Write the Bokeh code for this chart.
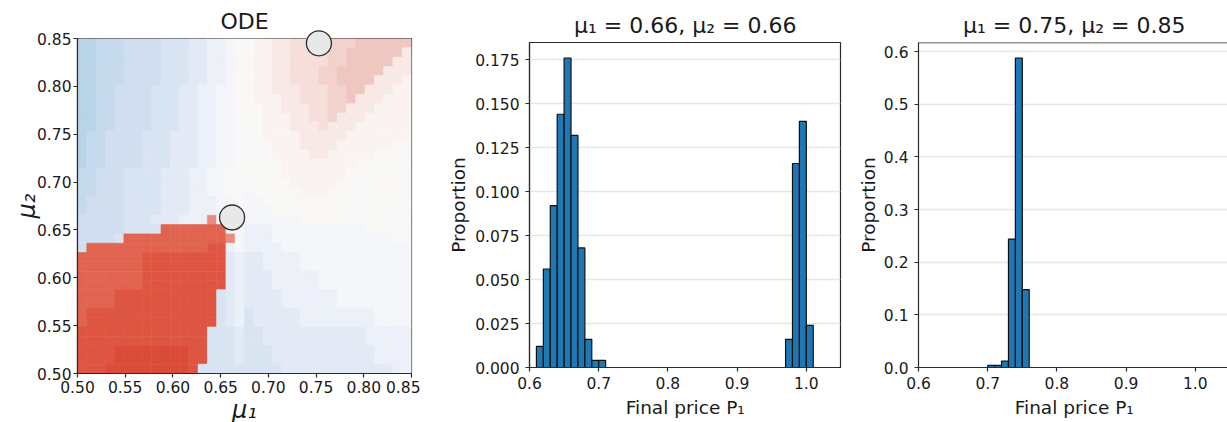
import math
from bokeh.plotting import figure
from bokeh.layouts import row
from bokeh.models import ColumnDataSource, FixedTicker, PrintfTickFormatter, Range1d, Span
from bokeh.core.properties import value
from bokeh.embed import file_html
from bokeh.resources import INLINE

# ---------------- data ----------------
MU_MIN, MU_MAX = 0.5, 0.85
N_CELLS = 36
# ODE heat map, read cell by cell (top row = mu2 0.85), level codes
HEAT_ROWS = [
    "aabbbccccdddeeffgw" + "whhiijjjjkkkllllll",
    "aabbbccccdddeeffgw" + "whhiijjjjkklllllli",
    "aabbbccccdddeeffgw" + "whhiijjjjkklllllii",
    "aabbbccccdddeeffgw" + "whhiijjjkkllllliii",
    "aabbbccccdddeeffgw" + "whhiijjjkklllliiih",
    "aabbccccdddeeffggw" + "whhiiijjjkklliiihh",
    "aabbccccdddeeffggw" + "whhhiijjjkkliiihhh",
    "aabbccccdddeeffggw" + "wwhhiiijjkkiiihhhh",
    "aabbccccdddeeffggw" + "wwhhhiijjkiiihhhhh",
    "aabbccccdddeeffggw" + "wwhhhiiijiiihhhhhh",
    "abbccccdddeeeffggw" + "wwhhhhiiiiihhhhhhh",
    "abbccccdddeeeffggw" + "wwwhhhiiiihhhhhhww",
    "abbccccdddeeeffggw" + "wwwhhhhiihhhhhwwww",
    "abbccccdddeeeffggw" + "wwwwhhhhhhhhwwwwww",
    "bbcccddddeeeffggww" + "wwwwhhhhhhhwwwwwww",
    "bbcccddddeeeffggww" + "wwwwwhhhhhwwwwwwww",
    "bbcccddddeeeffggww" + "gwwwwwhhhwwwwwwwww",
    "bccccddddeeefffggw" + "ggwwwwwwwwwwwwwwww",
    "bccccddddeeefffggw" + "gggwwwwwwwwwwwwwww",
    "cccccdddeeefff" + "m" + "gww" + "ggggggwwwwwwwwwwww",
    "cccccdddd" + "QQQQQQQ" + "gg" + "fffggggggggggwwwww",
    "ccccd" + "QQQQQQQQQQQ" + "m" + "g" + "fffgggggggggggggww",
    "c" + "QQQQQQQQQQQQQRR" + "fg" + "ffffgggggggggggggg",
    "QQQQQQQRRRRRRRRR" + "ef" + "eeffffgggggggggggg",
    "QQQQQQQRRRRRRRRR" + "ef" + "eeffffgggggggggggg",
    "QQQQQQQRRRRRRRRR" + "ef" + "eeefffffgggggggggg",
    "QQQQQQQRRRRRRRRR" + "ef" + "eeefffffgggggggggg",
    "QQQQRRRRRRRRRRR" + "def" + "eeeeffffffgggggggg",
    "QQQQRRRRRRRRRRR" + "def" + "eeeeffffffgggggggg",
    "QRRRRRRRRRRRRRR" + "def" + "deeeeeffffffffgggg",
    "QRRRRRRRRRRRRRR" + "def" + "deeeeeffffffffgggg",
    "RRRRRRRRRRRRRR" + "ddde" + "ddeeeeeeeeeeefffff",
    "RRRRRRRRRRRRRR" + "ddde" + "ddeeeeeeeeeeefffff",
    "RRRRSSSSSSSSRR" + "ddde" + "dddeeeeeeeeeeeffff",
    "RRRRSSSSSSSSRR" + "ddde" + "dddeeeeeeeeeeeffff",
    "RRRSSSSSSSSSR" + "ddddd" + "ddddeeeeeeeeeeeeff",
]
MARK_MU1 = [0.662, 0.753]
MARK_MU2 = [0.663, 0.845]

BIN_WIDTH = 0.01
H1_LEFT = [0.61, 0.62, 0.63, 0.64, 0.65, 0.66, 0.67, 0.68, 0.69, 0.70, 0.97, 0.98, 0.99, 1.00]
H1_PROP = [0.012, 0.056, 0.092, 0.144, 0.176, 0.132, 0.068, 0.016, 0.004, 0.004, 0.016, 0.116, 0.140, 0.024]
H2_LEFT = [0.70, 0.71, 0.72, 0.73, 0.74, 0.75]
H2_PROP = [0.004, 0.004, 0.012, 0.244, 0.588, 0.148]

TITLE1 = "ODE"
TITLE2 = "μ₁ = 0.66, μ₂ = 0.66"
TITLE3 = "μ₁ = 0.75, μ₂ = 0.85"
X1_LABEL, Y1_LABEL = "μ₁", "μ₂"
XH_LABEL, YH_LABEL = "Final price P₁", "Proportion"
X1_TICKS = [0.50, 0.55, 0.60, 0.65, 0.70, 0.75, 0.80, 0.85]
Y1_TICKS = [0.50, 0.55, 0.60, 0.65, 0.70, 0.75, 0.80, 0.85]
XH_TICKS = [0.6, 0.7, 0.8, 0.9, 1.0]
Y2_TICKS = [0.0, 0.025, 0.05, 0.075, 0.1, 0.125, 0.15, 0.175]
Y3_TICKS = [0.0, 0.1, 0.2, 0.3, 0.4, 0.5, 0.6]

# ---------------- style ----------------
LEVEL_COLORS = {
    "a": "#b9d4e8", "b": "#c5daec", "c": "#d0def0", "d": "#d9e4f3",
    "e": "#e3eaf6", "f": "#ecf0f8", "g": "#f4f6fa", "w": "#f9f8f7",
    "h": "#faf3f1", "i": "#f8e9e6", "j": "#f6deda", "k": "#f3d2cd",
    "l": "#efc6c0", "m": "#e98c7d", "Q": "#e16450", "R": "#de5642",
    "S": "#db4c38",
}
FONT = "DejaVu Sans"
TXT = "#1a1a1a"
EDGE = "#2b2b2b"


def style_axes(p, x_standoff=5, y_standoff=6):
    for ax in (p.xaxis[0], p.yaxis[0]):
        ax.major_label_text_font = FONT
        ax.major_label_text_font_size = "15.5px"
        ax.major_label_text_color = TXT
        ax.major_tick_in = 0
        ax.major_tick_out = 4
        ax.major_tick_line_color = EDGE
        ax.major_tick_line_width = 1.2
        ax.minor_tick_line_color = None
        ax.axis_line_color = EDGE
        ax.axis_line_width = 1.2
    p.xaxis[0].major_label_standoff = x_standoff
    p.yaxis[0].major_label_standoff = y_standoff


def add_text(p, text, x, y, size, xo=0, yo=0, angle=0.0, style="normal"):
    # text is centred on the anchor; offsets are screen pixels (positive = down / right)
    p.text(x=[x], y=[y], text=[text], x_offset=xo, y_offset=yo, angle=angle,
           text_align="center", text_baseline="middle", text_font=value(FONT),
           text_font_size=value(size), text_font_style=style, text_color=TXT,
           level="overlay")


# ---------------- panel 1: heat map ----------------
step = (MU_MAX - MU_MIN) / N_CELLS
xs, ys, cols = [], [], []
for r, line in enumerate(HEAT_ROWS):
    line = line.ljust(N_CELLS, line[-1])[:N_CELLS]
    for c, ch in enumerate(line):
        xs.append(MU_MIN + (c + 0.5) * step)
        ys.append(MU_MAX - (r + 0.5) * step)
        cols.append(LEVEL_COLORS[ch])
heat = ColumnDataSource(dict(x=xs, y=ys, color=cols))

p1 = figure(width=420, height=422, min_border_left=77, min_border_right=9,
            min_border_top=38, min_border_bottom=49, frame_align=False,
            x_range=Range1d(MU_MIN, MU_MAX), y_range=Range1d(MU_MIN, MU_MAX),
            output_backend="svg", toolbar_location=None, align="start")
p1.rect(x="x", y="y", width=step, height=step, source=heat,
        fill_color="color", line_color="color", line_width=0.6)
p1.scatter(MARK_MU1, MARK_MU2, marker="circle", size=25, fill_color="#e8e8e8",
           line_color=EDGE, line_width=1.3, level="overlay")
p1.grid.visible = False
p1.outline_line_color = EDGE
p1.outline_line_width = 1.2
p1.xaxis.ticker = FixedTicker(ticks=X1_TICKS)
p1.yaxis.ticker = FixedTicker(ticks=Y1_TICKS)
p1.xaxis.formatter = PrintfTickFormatter(format="%.2f")
p1.yaxis.formatter = PrintfTickFormatter(format="%.2f")
style_axes(p1, x_standoff=3, y_standoff=2)
mid1 = (MU_MIN + MU_MAX) / 2
add_text(p1, TITLE1, mid1, MU_MAX, "22px", yo=-17)
add_text(p1, X1_LABEL, mid1, MU_MIN, "24px", yo=36, style="italic")
add_text(p1, Y1_LABEL, MU_MIN, mid1, "24px", xo=-51, angle=math.pi / 2, style="italic")


# ---------------- histogram panels ----------------
def hist_panel(left, prop, title, yticks, yfmt, ytop, xend, w, ml, mr, outline, ylab_off):
    src = ColumnDataSource(dict(left=left, right=[v + BIN_WIDTH for v in left],
                                top=prop, bottom=[0.0] * len(prop)))
    p = figure(width=w, height=422, min_border_left=ml, min_border_right=mr,
               min_border_top=42, min_border_bottom=55, frame_align=False,
               x_range=Range1d(0.6, xend), y_range=Range1d(0.0, ytop),
               output_backend="svg", toolbar_location=None, align="start")
    p.quad(left="left", right="right", top="top", bottom="bottom", source=src,
           fill_color="#1f77b4", line_color="#111111", line_width=1.2)
    p.xgrid.visible = False
    p.ygrid.grid_line_color = "#e6e6e6"
    p.ygrid.grid_line_width = 1.3
    p.xaxis.ticker = FixedTicker(ticks=XH_TICKS)
    p.yaxis.ticker = FixedTicker(ticks=yticks)
    p.xaxis.formatter = PrintfTickFormatter(format="%.1f")
    p.yaxis.formatter = PrintfTickFormatter(format=yfmt)
    style_axes(p, x_standoff=5, y_standoff=6)
    if outline:
        p.outline_line_color = EDGE
        p.outline_line_width = 1.2
    else:
        p.outline_line_color = None
        p.add_layout(Span(location=ytop, dimension="width", line_color=EDGE, line_width=1.5))
    xmid = (0.6 + 1.05) / 2
    add_text(p, title, xmid, ytop, "22px", yo=-17.3)
    add_text(p, XH_LABEL, xmid, 0.0, "18.5px", yo=39.5)
    add_text(p, YH_LABEL, 0.6, ytop / 2, "18.5px", xo=-ylab_off, angle=math.pi / 2)
    return p


p2 = hist_panel(H1_LEFT, H1_PROP, TITLE2, Y2_TICKS, "%.3f", 0.1848, 1.0494, 430, 109, 10, True, 71)
p3 = hist_panel(H2_LEFT, H2_PROP, TITLE3, Y3_TICKS, "%.1f", 0.6174, 1.0465, 377, 68, 0, False, 50.5)

layout = row(p1, p2, p3)
open("out.html", "w").write(file_html(layout, INLINE))
